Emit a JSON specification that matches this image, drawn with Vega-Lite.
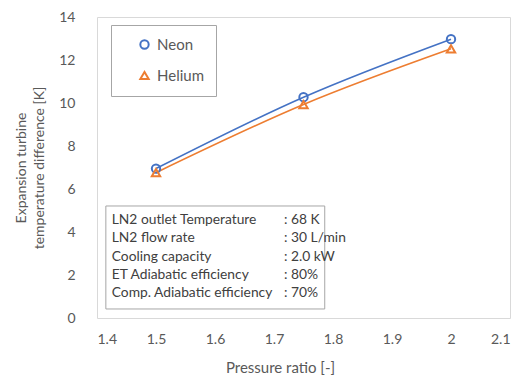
{
  "$schema": "https://vega.github.io/schema/vega-lite/v6.json",
  "width": 413,
  "height": 301,
  "autosize": {"type": "none"},
  "padding": {"left": 97, "top": 17, "right": 14, "bottom": 60},
  "background": "white",
  "config": {
    "font": "Lato",
    "view": {"stroke": "#d9d9d9", "strokeWidth": 1},
    "axis": {
      "gridColor": "#d9d9d9",
      "gridWidth": 1,
      "domain": false,
      "ticks": false,
      "labelColor": "#595959",
      "labelFontSize": 14,
      "labelFont": "Lato",
      "titleColor": "#595959",
      "titleFontSize": 14,
      "titleFont": "Lato",
      "titleFontWeight": "normal"
    },
    "legend": {
      "orient": "none",
      "legendX": 14,
      "legendY": 8,
      "strokeColor": "#a6a6a6",
      "fillColor": "white",
      "padding": 12,
      "symbolOffset": 14,
      "rowPadding": 14,
      "labelFontSize": 15,
      "labelFont": "Lato",
      "labelColor": "#595959",
      "labelOffset": 5,
      "symbolSize": 70,
      "symbolStrokeWidth": 2,
      "title": null
    }
  },
  "layer": [
    {
      "data": {"values": [{}]},
      "mark": {"type": "rect", "fill": "white", "stroke": "#a6a6a6", "strokeWidth": 1},
      "encoding": {
        "x": {"datum": 1.415, "type": "quantitative"},
        "x2": {"datum": 1.786},
        "y": {"datum": 5.21, "type": "quantitative"},
        "y2": {"datum": 0.42}
      }
    },
    {
      "data": {"values": [{}]},
      "mark": {
        "type": "text",
        "text": ["LN2 outlet Temperature", "LN2 flow rate", "Cooling capacity", "ET Adiabatic efficiency", "Comp. Adiabatic efficiency"],
        "align": "left",
        "baseline": "middle",
        "fontSize": 13.8,
        "lineHeight": 18.3,
        "color": "#404040",
        "font": "Lato"
      },
      "encoding": {
        "x": {"datum": 1.425, "type": "quantitative"},
        "y": {"datum": 4.56, "type": "quantitative"}
      }
    },
    {
      "data": {"values": [{}]},
      "mark": {
        "type": "text",
        "text": [": 68 K", ": 30 L/min", ": 2.0 kW", ": 80%", ": 70%"],
        "align": "left",
        "baseline": "middle",
        "fontSize": 13.8,
        "lineHeight": 18.3,
        "color": "#404040",
        "font": "Lato"
      },
      "encoding": {
        "x": {"datum": 1.717, "type": "quantitative"},
        "y": {"datum": 4.56, "type": "quantitative"}
      }
    },
    {
      "data": {
        "values": [
          {"ratio": 1.5, "gas": "Neon", "dT": 6.95},
          {"ratio": 1.75, "gas": "Neon", "dT": 10.27},
          {"ratio": 2.0, "gas": "Neon", "dT": 12.97},
          {"ratio": 1.5, "gas": "Helium", "dT": 6.76},
          {"ratio": 1.75, "gas": "Helium", "dT": 9.93},
          {"ratio": 2.0, "gas": "Helium", "dT": 12.52}
        ]
      },
      "layer": [
        {
          "mark": {"type": "line", "interpolate": "monotone", "strokeWidth": 1.6},
          "encoding": {
            "x": {"field": "ratio", "type": "quantitative"},
            "y": {"field": "dT", "type": "quantitative"},
            "color": {"field": "gas", "type": "nominal"}
          }
        },
        {
          "mark": {"type": "point", "filled": false, "strokeWidth": 2, "size": 70, "opacity": 1},
          "encoding": {
            "x": {"field": "ratio", "type": "quantitative"},
            "y": {"field": "dT", "type": "quantitative"},
            "color": {"field": "gas", "type": "nominal"},
            "shape": {"field": "gas", "type": "nominal"}
          }
        }
      ]
    }
  ],
  "resolve": {"scale": {"x": "shared", "y": "shared"}},
  "encoding": {
    "x": {
      "type": "quantitative",
      "scale": {"domain": [1.4, 2.1], "nice": false, "zero": false},
      "axis": {
        "values": [1.4, 1.5, 1.6, 1.7, 1.8, 1.9, 2.0, 2.1],
        "format": "~g",
        "labelPadding": 14,
        "title": "Pressure ratio [-]",
        "titleFontSize": 15,
        "titleX": 183,
        "titlePadding": 14
      }
    },
    "y": {
      "type": "quantitative",
      "scale": {"domain": [0, 14], "nice": false},
      "axis": {
        "values": [0, 2, 4, 6, 8, 10, 12, 14],
        "labelPadding": 22,
        "title": ["Expansion turbine", "temperature difference [K]"],
        "titlePadding": 12,
        "titleLineHeight": 18.5
      }
    },
    "color": {
      "type": "nominal",
      "scale": {"domain": ["Neon", "Helium"], "range": ["#4472C4", "#ED7D31"]}
    },
    "shape": {
      "type": "nominal",
      "scale": {"domain": ["Neon", "Helium"], "range": ["circle", "triangle-up"]}
    }
  }
}
